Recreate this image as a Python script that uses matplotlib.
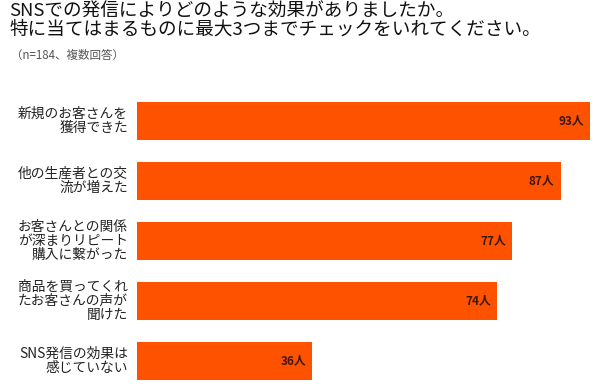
import matplotlib
matplotlib.use('Agg')
import matplotlib.pyplot as plt

plt.rcParams['font.family'] = ['Noto Sans CJK JP', 'DejaVu Sans']

categories = ['新規のお客さんを\n獲得できた',
              '他の生産者との交\n流が増えた',
              'お客さんとの関係\nが深まりリピート\n購入に繋がった',
              '商品を買ってくれ\nたお客さんの声が\n聞けた',
              'SNS発信の効果は\n感じていない']
counts = [93, 87, 77, 74, 36]
title = 'SNSでの発信によりどのような効果がありましたか。\n特に当てはまるものに最大3つまでチェックをいれてください。'
note = '（n=184、複数回答）'

W, H = 600, 387
fig = plt.figure(figsize=(W / 100, H / 100), dpi=100)

# axes placed in pixel units: left edge of bars at x=137, 93 ends at x=590
ax_left, ax_right = 137, 590
ax_top, ax_bottom = 91, 387
ax = fig.add_axes([ax_left / W, 1 - ax_bottom / H,
                   (ax_right - ax_left) / W, (ax_bottom - ax_top) / H])

pitch = 60.0
ypos = list(range(len(categories)))
ax.barh(ypos, counts, height=38 / pitch, color='#ff5200')
ax.set_xlim(0, 93)
ax.set_ylim(-0.5 + (ax_bottom - ax_top) / pitch, -0.5)
ax.axis('off')

for y, v in zip(ypos, counts):
    ax.text(v - 1.3, y, f'{v}人', ha='right', va='center',
            fontsize=8.5, fontweight='bold', color='#3a1a10')

for y, lab in zip(ypos, categories):
    ax.annotate(lab, xy=(0, y), xycoords='data', xytext=(-9, 0),
                textcoords='offset pixels', ha='right', va='center',
                fontsize=9.9, color='#222222', linespacing=1.0,
                multialignment='right')

fig.text(9 / W, 1 - 3 / H, title, ha='left', va='top', fontsize=13.4,
         color='#111111', linespacing=1.0)
fig.text(11 / W, 1 - 49 / H, note, ha='left', va='top', fontsize=8.3,
         color='#555555')

fig.savefig('out.png', dpi=100, facecolor='white')
